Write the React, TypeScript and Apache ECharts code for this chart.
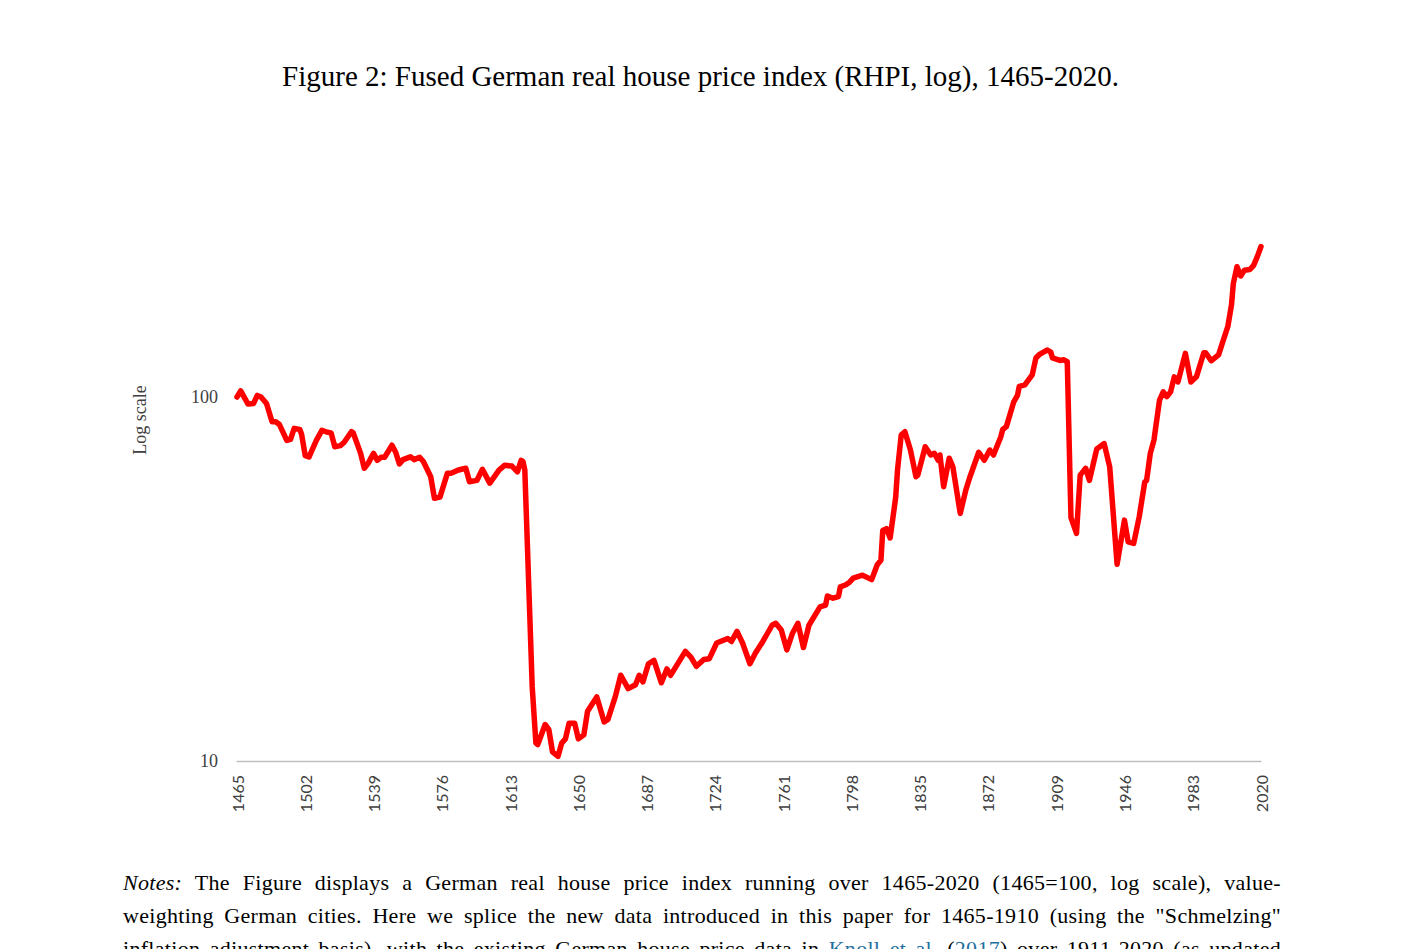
import { useEffect, useRef } from 'react';
import * as echarts from 'echarts';

// yearly categories for the x axis, one label every 37 years
const categories = Array.from({ length: 2020 - 1465 + 1 }, (_, i) => String(1465 + i));
const yTickLabels = [10, 100];

// 1465-1621: late medieval / early modern decline
const earlyYears = [
  1465, 1467, 1471, 1474, 1476, 1478, 1481, 1484, 1486, 1488, 1492, 1494, 1496, 1499, 1500,
  1502, 1504, 1508, 1511, 1514, 1516, 1518, 1521, 1523, 1527, 1528, 1532, 1534, 1536, 1539,
  1541, 1543, 1545, 1549, 1551, 1553, 1555, 1559, 1561, 1564, 1566, 1570, 1572, 1575, 1579,
  1581, 1585, 1589, 1591, 1595, 1598, 1602, 1607, 1610, 1614, 1617, 1619, 1620, 1621,
];
const earlyValues = [
  100, 104, 95.6, 96, 101, 100, 96, 85.5, 85.5, 84, 76, 76.5, 82, 81.5, 79,
  69, 68.4, 76, 81, 80, 79.7, 73, 73.5, 75, 80.3, 79.7, 70, 63.7, 65.6, 70,
  67, 68.3, 68.3, 73.7, 70.5, 65.5, 67.3, 68.5, 67.3, 68.3, 66.5, 60.4, 52.7, 53.1, 61.7,
  61.7, 63, 63.7, 58.5, 59, 63.3, 58, 63, 64.9, 64.6, 62.3, 67, 66.5, 63,
];

// 1625-1797: collapse and slow recovery
const recoveryYears = [
  1625, 1627, 1628, 1632, 1634, 1636, 1639, 1641, 1643, 1645, 1648, 1650, 1653, 1655, 1660,
  1664, 1666, 1670, 1673, 1677, 1681, 1683, 1685, 1688, 1691, 1695, 1698, 1700, 1703, 1708,
  1711, 1714, 1718, 1721, 1725, 1727, 1731, 1733, 1736, 1739, 1743, 1746, 1750, 1755, 1757,
  1760, 1763, 1766, 1769, 1772, 1775, 1781, 1784, 1785, 1788, 1791, 1792, 1795, 1797,
];
const recoveryValues = [
  16, 11.2, 11.1, 12.6, 12.2, 10.6, 10.3, 11.2, 11.5, 12.7, 12.7, 11.5, 11.8, 13.7, 15,
  12.8, 13, 15, 17.2, 15.8, 16.2, 17.2, 16.5, 18.5, 18.9, 16.4, 17.9, 17.2, 18.2, 20,
  19.3, 18.2, 19, 19.1, 21.1, 21.3, 21.7, 21.3, 22.7, 21.1, 18.5, 19.8, 21.3, 23.6, 23.9,
  22.9, 20.2, 22.4, 23.9, 20.5, 23.6, 26.5, 26.8, 28.4, 28, 28.3, 30.1, 30.5, 31,
];

// 1799-1915
const industrialYears = [
  1799, 1804, 1809, 1812, 1814, 1815, 1817, 1819, 1822, 1823, 1825, 1827, 1830, 1833, 1834,
  1838, 1841, 1843, 1845, 1846, 1848, 1851, 1853, 1857, 1860, 1862, 1867, 1870, 1873, 1875,
  1879, 1880, 1882, 1886, 1888, 1889, 1892, 1896, 1898, 1900, 1904, 1906, 1907, 1911, 1913,
  1915,
];
const industrialValues = [
  31.8, 32.4, 31.5, 34.6, 35.6, 43, 43.5, 41, 53, 63, 78.6, 80.3, 71.5, 60.4, 61,
  73, 69.3, 70, 67, 69.3, 56.7, 67.9, 64.3, 47.9, 55.5, 59.8, 70.5, 67, 71.5, 69.3,
  77.8, 81.4, 82.9, 97, 101, 107, 108, 115, 128, 131, 134.6, 133, 128, 126, 126.6,
  125,
];

// 1917-2020 (Knoll et al. splice)
const modernYears = [
  1917, 1920, 1922, 1925, 1927, 1931, 1935, 1938, 1942, 1946, 1948, 1951, 1954, 1957, 1958,
  1960, 1962, 1965, 1967, 1969, 1971, 1973, 1975, 1979, 1982, 1985, 1989, 1990, 1993, 1997,
  1999, 2002, 2004, 2005, 2007, 2009, 2011, 2014, 2016, 2018, 2020,
];
const modernValues = [
  46.6, 42.2, 61, 63.7, 59, 72, 74.5, 64.3, 34.7, 45.9, 40, 39.6, 46.9, 58.4, 59,
  70, 76.2, 98, 103.3, 100.2, 103.3, 113.6, 110, 131.8, 110, 113.6, 132.3, 132.3, 125.8, 130.5,
  140.4, 156, 179, 205, 228, 215, 223, 224, 230, 243, 259,
];

const pointYears = [...earlyYears, ...recoveryYears, ...industrialYears, ...modernYears];
const rhpiValues = [...earlyValues, ...recoveryValues, ...industrialValues, ...modernValues];

const noteLines = [
  [
    { text: 'Notes:', italic: true },
    { text: ' The Figure displays a German real house price index running over 1465-2020 (1465=100, log scale), value-' },
  ],
  [
    { text: 'weighting German cities. Here we splice the new data introduced in this paper for 1465-1910 (using the "Schmelzing"' },
  ],
  [
    { text: 'inflation adjustment basis), with the existing German house price data in ' },
    { text: 'Knoll et al.', link: true },
    { text: ' (' },
    { text: '2017', link: true },
    { text: ') over 1911-2020 (as updated' },
  ],
];

function RhpiChart() {
  const chartRef = useRef<HTMLDivElement | null>(null);

  useEffect(() => {
    const element = chartRef.current;
    if (!element) return;

    const chart = echarts.init(element, undefined, { renderer: 'svg' });
    chart.setOption({
      animation: false,
      title: {
        text: 'Figure 2: Fused German real house price index (RHPI, log), 1465-2020.',
        left: 'center',
        top: 61,
        padding: 0,
        textStyle: {
          fontFamily: 'Liberation Serif',
          fontSize: 29,
          fontWeight: 'normal',
          color: '#000',
        },
      },
      grid: { left: 237, right: 140, top: 33, bottom: 188 },
      xAxis: {
        type: 'category',
        data: categories,
        boundaryGap: false,
        axisLine: { lineStyle: { color: '#bfbfbf', width: 1.3 } },
        axisTick: { show: false },
        axisLabel: {
          interval: 36,
          rotate: 90,
          margin: 14,
          fontFamily: 'Lato',
          fontSize: 16,
          color: '#404040',
        },
        splitLine: { show: false },
      },
      yAxis: {
        type: 'log',
        logBase: 10,
        min: 10,
        max: 1000,
        axisLine: { show: false },
        axisTick: { show: false },
        splitLine: { show: false },
        axisLabel: {
          margin: 19,
          fontFamily: 'Liberation Serif',
          fontSize: 18,
          color: '#404040',
          formatter: (v: number) => (yTickLabels.includes(Math.round(v)) ? String(Math.round(v)) : ''),
        },
      },
      graphic: [
        {
          type: 'text',
          x: 140,
          y: 420,
          rotation: Math.PI / 2,
          style: {
            text: 'Log scale',
            fontFamily: 'Liberation Serif',
            fontSize: 18,
            fill: '#404040',
            textAlign: 'center',
            textVerticalAlign: 'middle',
          },
        },
      ],
      series: [
        {
          type: 'line',
          data: pointYears.map((y, i) => [String(y), rhpiValues[i]]),
          showSymbol: false,
          smooth: false,
          lineStyle: { color: '#ff0000', width: 5.5, cap: 'round', join: 'round' },
        },
      ],
    });

    return () => {
      chart.dispose();
    };
  }, []);

  return <div ref={chartRef} style={{ position: 'absolute', left: 0, top: 0, width: 1401, height: 949 }} />;
}

export default function App() {
  return (
    <div
      style={{
        position: 'fixed',
        left: 0,
        top: 0,
        width: 1401,
        height: 949,
        overflow: 'hidden',
        background: '#fff',
      }}
    >
      <RhpiChart />
      <div
        style={{
          position: 'absolute',
          left: 123,
          top: 866,
          width: 1158,
          fontFamily: 'Liberation Serif',
          fontSize: 22,
          letterSpacing: 0.3,
          color: '#000',
        }}
      >
        {noteLines.map((line, i) => (
          <div
            key={i}
            style={{ height: 33, lineHeight: '33px', textAlign: 'justify', textAlignLast: 'justify', whiteSpace: 'normal' }}
          >
            {line.map((part, j) => (
              <span
                key={j}
                style={{
                  fontStyle: part.italic ? 'italic' : 'normal',
                  color: part.link ? '#1f6f9f' : '#000',
                }}
              >
                {part.text}
              </span>
            ))}
          </div>
        ))}
      </div>
    </div>
  );
}
